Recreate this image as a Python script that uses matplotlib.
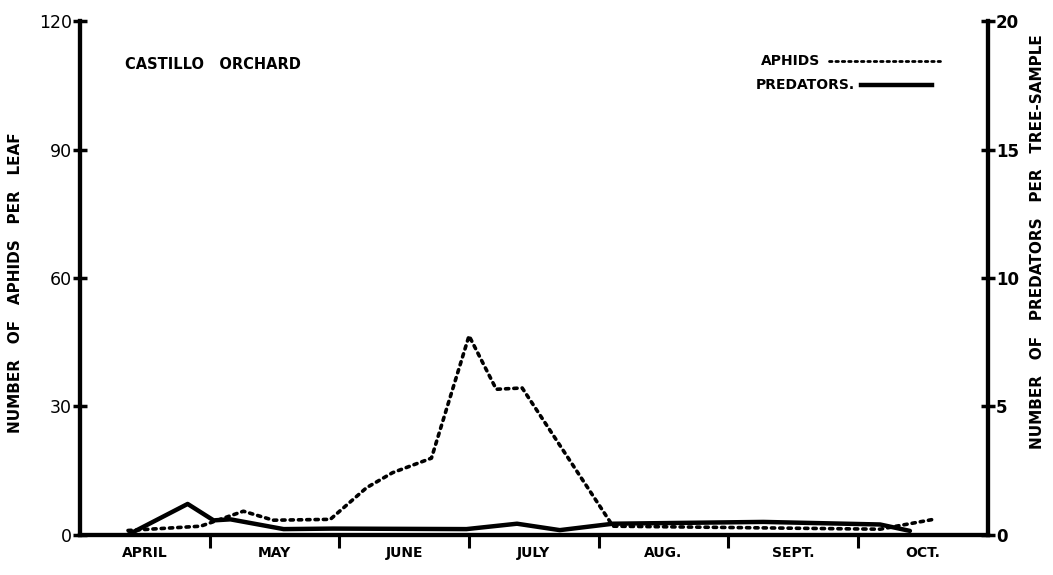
import matplotlib
matplotlib.use("Agg")
import matplotlib.pyplot as plt
from matplotlib.lines import Line2D

# sample dates as months after April 1 (0 = Apr 1, 7 = Oct 31)
aphid_month = [0.37, 0.93, 1.26, 1.49, 1.93, 2.21, 2.41, 2.71, 3.00, 3.21, 3.41, 4.11, 6.17, 6.60]
aphids_per_leaf = [1.0, 2.0, 5.5, 3.4, 3.6, 11.0, 14.5, 17.9, 46.5, 34.0, 34.3, 2.0, 1.3, 3.7]

predator_month = [0.37, 0.83, 1.03, 1.16, 1.57, 1.95, 2.98, 3.37, 3.70, 4.11, 5.27, 6.17, 6.40]
predators_per_sample = [0.0, 1.2, 0.56, 0.6, 0.22, 0.24, 0.22, 0.43, 0.18, 0.43, 0.5, 0.4, 0.15]

months = ["APRIL", "MAY", "JUNE", "JULY", "AUG.", "SEPT.", "OCT."]
left_ticks = [0, 30, 60, 90, 120]
right_ticks = [0, 5, 10, 15, 20]

bold = dict(fontweight="bold", family="DejaVu Sans")
dotted = (0, (0.9, 1.4))

fig = plt.figure(figsize=(10.53, 5.75), dpi=100)
ax = fig.add_axes([0.076, 0.07, 0.862, 0.893])
ax2 = ax.twinx()

ax.plot(aphid_month, aphids_per_leaf, color="black", lw=2.6,
        linestyle=dotted, dash_capstyle="round")
ax2.plot(predator_month, predators_per_sample, color="black", lw=3.2,
         solid_capstyle="round")

ax.set_xlim(0, 7)
ax.set_ylim(0, 120)
ax2.set_ylim(0, 20)

for a in (ax, ax2):
    a.spines["top"].set_visible(False)
    for s in ("left", "right", "bottom"):
        a.spines[s].set_linewidth(3)

# month boundaries get tick marks, labels sit in the middle of each month
ax.set_xticks(range(1, 7))
ax.set_xticklabels([])
ax.tick_params(axis="x", which="major", direction="out", length=9, width=2.2)
ax.set_xticks([i + 0.5 for i in range(7)], minor=True)
ax.set_xticklabels(months, minor=True, fontsize=10, **bold)
ax.tick_params(axis="x", which="minor", length=0, pad=8)

ax.set_yticks(left_ticks)
ax.set_yticklabels([str(t) for t in left_ticks], fontsize=12.5)
ax.tick_params(axis="y", direction="inout", length=10, width=2.5, pad=1)

ax2.set_yticks(right_ticks)
ax2.set_yticklabels([str(t) for t in right_ticks], fontsize=12, **bold)
ax2.tick_params(axis="y", direction="inout", length=10, width=2.5, pad=1)

ax.set_ylabel("NUMBER   OF   APHIDS   PER   LEAF", fontsize=11, **bold)
ax.yaxis.set_label_coords(-0.063, 0.49)
ax2.set_ylabel("NUMBER   OF   PREDATORS   PER   TREE-SAMPLE", fontsize=11,
               rotation=90, **bold)
ax2.yaxis.set_label_coords(1.047, 0.571)

ax.text(0.05, 0.9165, "CASTILLO   ORCHARD", transform=ax.transAxes, fontsize=10.5,
        va="center", ha="left", **bold)

# hand-placed key, text left of its line as in the original
ax.text(0.815, 0.922, "APHIDS", transform=ax.transAxes, fontsize=10,
        va="center", ha="right", **bold)
ax.add_line(Line2D([0.825, 0.947], [0.922, 0.922], transform=ax.transAxes,
                   color="black", lw=2.0, linestyle=dotted, dash_capstyle="round"))
ax.text(0.8535, 0.876, "PREDATORS.", transform=ax.transAxes, fontsize=10,
        va="center", ha="right", **bold)
ax.add_line(Line2D([0.860, 0.939], [0.876, 0.876], transform=ax.transAxes,
                   color="black", lw=3.2))

fig.savefig("out.png", dpi=100)
